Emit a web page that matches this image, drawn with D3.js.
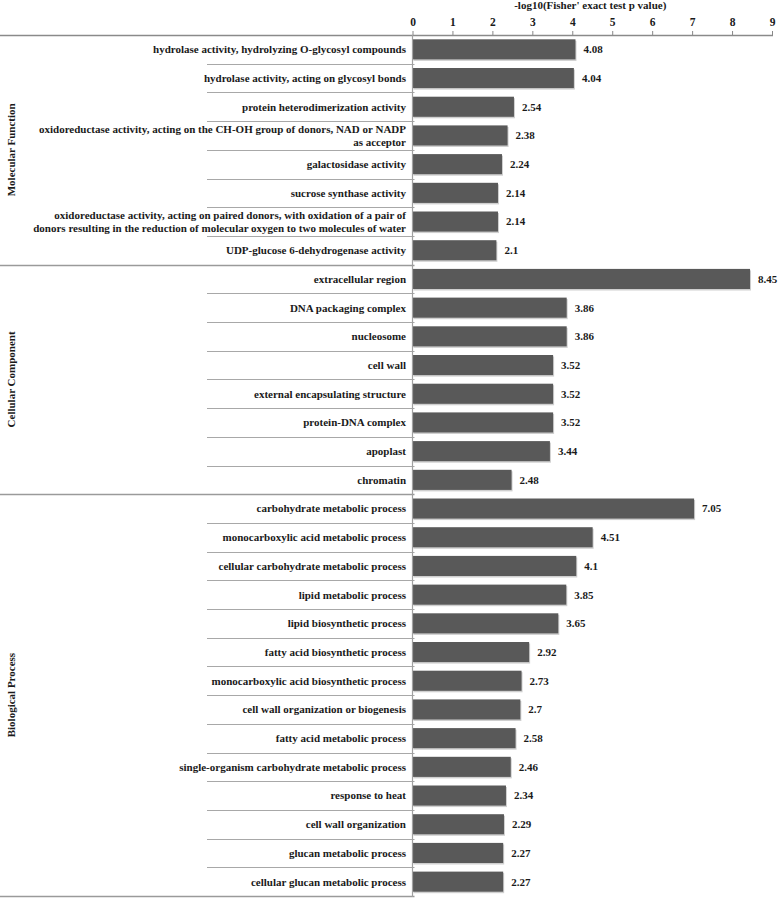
<!DOCTYPE html>
<html>
<head>
<meta charset="utf-8">
<script src="https://cdn.jsdelivr.net/npm/d3@7"></script>
<style>
  body { margin: 0; background: #fff; }
  text { font-family: "Liberation Serif", "Times New Roman", serif; font-weight: bold; fill: #1a1a1a; }
</style>
</head>
<body>
<div id="chart"></div>
<script>
// GO enrichment terms and -log10 p values
const groupNames = ['Molecular Function', 'Cellular Component', 'Biological Process'];

const mfTerms = [
  'hydrolase activity, hydrolyzing O-glycosyl compounds',
  'hydrolase activity, acting on glycosyl bonds',
  'protein heterodimerization activity',
  'oxidoreductase activity, acting on the CH-OH group of donors, NAD or NADP\nas acceptor',
  'galactosidase activity',
  'sucrose synthase activity',
  'oxidoreductase activity, acting on paired donors, with oxidation of a pair of\ndonors resulting in the reduction of molecular oxygen to two molecules of water',
  'UDP-glucose 6-dehydrogenase activity'
];
const mfValues = [4.08, 4.04, 2.54, 2.38, 2.24, 2.14, 2.14, 2.1];

const ccTerms = [
  'extracellular region', 'DNA packaging complex', 'nucleosome', 'cell wall',
  'external encapsulating structure', 'protein-DNA complex', 'apoplast', 'chromatin'
];
const ccValues = [8.45, 3.86, 3.86, 3.52, 3.52, 3.52, 3.44, 2.48];

const bpTerms = [
  'carbohydrate metabolic process', 'monocarboxylic acid metabolic process',
  'cellular carbohydrate metabolic process', 'lipid metabolic process',
  'lipid biosynthetic process', 'fatty acid biosynthetic process',
  'monocarboxylic acid biosynthetic process', 'cell wall organization or biogenesis',
  'fatty acid metabolic process', 'single-organism carbohydrate metabolic process',
  'response to heat', 'cell wall organization', 'glucan metabolic process',
  'cellular glucan metabolic process'
];
const bpValues = [7.05, 4.51, 4.1, 3.85, 3.65, 2.92, 2.73, 2.7, 2.58, 2.46, 2.34, 2.29, 2.27, 2.27];

const xTicks = [0, 1, 2, 3, 4, 5, 6, 7, 8, 9];
const xTitle = "-log10(Fisher' exact test p value)";

const width = 778;
const height = 898;
const plotTop = 35, plotBottom = 896;
const plotLeft = 412.5, plotRight = 772;
const rowLineStart = 207;

const groups = [
  { name: groupNames[0], terms: mfTerms, values: mfValues },
  { name: groupNames[1], terms: ccTerms, values: ccValues },
  { name: groupNames[2], terms: bpTerms, values: bpValues }
];

const rows = [];
groups.forEach((g, gi) => {
  g.terms.forEach((t, i) => rows.push({ term: t, value: g.values[i], group: gi, first: i === 0 }));
});

const svg = d3.select('#chart').append('svg')
  .attr('width', width)
  .attr('height', height);

const x = d3.scaleLinear().domain([0, 9]).range([plotLeft, plotRight]);
const y = d3.scaleBand()
  .domain(rows.map(d => d.term))
  .range([plotTop, plotBottom])
  .paddingInner(0.3)
  .paddingOuter(0.15);

const step = y.step();
const rowTop = d => y(d.term) - y.paddingOuter() * step;

// row separators (short) and group separators (full width)
svg.append('g')
  .selectAll('line')
  .data(rows.slice(1))
  .enter().append('line')
  .attr('x1', d => d.first ? 0 : rowLineStart)
  .attr('x2', plotLeft + 2)
  .attr('y1', d => Math.round(rowTop(d)) + 0.5)
  .attr('y2', d => Math.round(rowTop(d)) + 0.5)
  .style('stroke', d => d.first ? '#9a9a9a' : '#a8a8a8')
  .style('stroke-width', d => d.first ? 1.5 : 1.2);

// bottom line
svg.append('line')
  .attr('x1', 0).attr('x2', plotLeft + 2)
  .attr('y1', plotBottom + 0.5).attr('y2', plotBottom + 0.5)
  .style('stroke', '#9a9a9a').style('stroke-width', 1.5);

// bar shadows + bars
svg.append('g')
  .selectAll('rect')
  .data(rows)
  .enter().append('rect')
  .attr('x', x(0) + 1)
  .attr('y', d => y(d.term) + 1.5)
  .attr('width', d => x(d.value) - x(0))
  .attr('height', y.bandwidth())
  .style('fill', '#cfcfcf');

svg.append('g')
  .selectAll('rect')
  .data(rows)
  .enter().append('rect')
  .attr('x', x(0))
  .attr('y', d => y(d.term))
  .attr('width', d => x(d.value) - x(0))
  .attr('height', y.bandwidth())
  .style('fill', '#595959');

// value labels
svg.append('g')
  .selectAll('text')
  .data(rows)
  .enter().append('text')
  .attr('x', d => x(d.value) + 8)
  .attr('y', d => y(d.term) + y.bandwidth() / 2)
  .attr('dy', '0.35em')
  .style('font-size', '11px')
  .text(d => d.value);

// category labels (some wrap onto two lines)
const labels = svg.append('g')
  .selectAll('text')
  .data(rows)
  .enter().append('text')
  .attr('text-anchor', 'end')
  .style('font-size', '11px')
  .attr('y', d => y(d.term) + y.bandwidth() / 2);

labels.each(function (d) {
  const lines = d.term.split('\n');
  const t = d3.select(this);
  lines.forEach((ln, i) => {
    t.append('tspan')
      .attr('x', 406)
      .attr('dy', i === 0 ? (0.35 - (lines.length - 1) * 0.6) + 'em' : '1.2em')
      .text(ln);
  });
});

// top axis
const xAxis = d3.axisTop(x).tickValues(xTicks).tickSize(4).tickPadding(5);
const axisG = svg.append('g')
  .attr('transform', `translate(0,${plotTop})`)
  .call(xAxis);
axisG.select('.domain').remove();
axisG.selectAll('.tick line').style('stroke', '#888');
axisG.selectAll('.tick text')
  .style('font-family', '"Liberation Serif", serif')
  .style('font-size', '11.5px')
  .style('font-weight', 'bold')
  .style('fill', '#1a1a1a');

svg.append('line')
  .attr('x1', 0).attr('x2', plotRight + 1)
  .attr('y1', plotTop + 0.5).attr('y2', plotTop + 0.5)
  .style('stroke', '#8a8a8a').style('stroke-width', 1.5);

// vertical axis line at x=0
svg.append('line')
  .attr('x1', plotLeft).attr('x2', plotLeft)
  .attr('y1', plotTop).attr('y2', plotBottom + 1)
  .style('stroke', '#a0a0a0').style('stroke-width', 1.2);

svg.append('text')
  .attr('x', (x(0) + x(9)) / 2 - 2)
  .attr('y', 9)
  .attr('text-anchor', 'middle')
  .style('font-size', '11px')
  .text(xTitle);

// group labels, rotated
let start = 0;
groups.forEach(g => {
  const first = rows[start], last = rows[start + g.terms.length - 1];
  const y0 = rowTop(first), y1 = rowTop(last) + step;
  svg.append('text')
    .attr('transform', `translate(15,${(y0 + y1) / 2}) rotate(-90)`)
    .attr('text-anchor', 'middle')
    .style('font-size', '11px')
    .text(g.name);
  start += g.terms.length;
});
</script>
</body>
</html>
